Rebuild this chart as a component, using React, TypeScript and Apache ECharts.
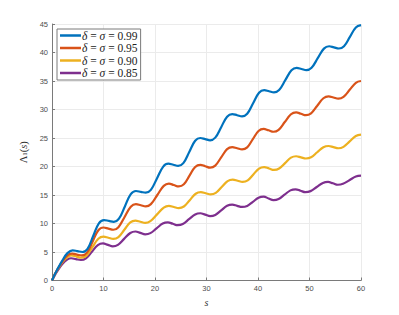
import React, { useEffect, useRef } from "react";
import * as echarts from "echarts";

const seriesNames = ["δ = σ = 0.99", "δ = σ = 0.95", "δ = σ = 0.90", "δ = σ = 0.85"];
const legendValues = ["0.99", "0.95", "0.90", "0.85"];
const colors = ["#0072BD", "#D95319", "#EDB120", "#7E2F8E"];
const xTicks = [0, 10, 20, 30, 40, 50, 60];
const yTicks = [0, 5, 10, 15, 20, 25, 30, 35, 40, 45];

const curve099: [number, number][] = [
  [0, 0], [0.5, 1.0], [1, 1.9], [2, 3.5], [3, 4.8], [4.0, 5.3], [4.95, 5.15], [5.9, 5.0],
  [6.9, 5.56], [8.0, 7.8], [9.1, 10.04], [10.1, 10.6], [11.05, 10.45], [12.0, 10.3],
  [13.0, 10.84], [14.15, 13.0], [15.3, 15.16], [16.3, 15.7], [17.25, 15.55], [18.2, 15.4],
  [19.2, 15.91], [20.4, 17.95], [21.6, 19.99], [22.6, 20.5], [23.55, 20.3], [24.5, 20.1],
  [25.5, 20.59], [26.65, 22.55], [27.8, 24.51], [28.8, 25.0], [29.75, 24.8], [30.7, 24.6],
  [31.7, 25.06], [32.85, 26.9], [34.0, 28.74], [35.0, 29.2], [35.95, 29.0], [36.9, 28.8],
  [37.9, 29.26], [39.05, 31.1], [40.2, 32.94], [41.2, 33.4], [42.15, 33.2], [43.1, 33.0],
  [44.1, 33.43], [45.3, 35.15], [46.5, 36.87], [47.5, 37.3], [48.45, 37.1], [49.4, 36.9],
  [50.4, 37.32], [51.6, 39.0], [52.8, 40.68], [53.8, 41.1], [54.75, 40.9], [55.7, 40.7],
  [56.7, 41.11], [57.85, 42.75], [59.0, 44.39], [60, 44.8],
];
const curve095: [number, number][] = [
  [0, 0], [0.5, 1.0], [1, 1.85], [2, 3.3], [3, 4.4], [3.9, 4.7], [4.85, 4.55], [5.8, 4.4],
  [6.8, 4.89], [7.9, 6.85], [9.0, 8.81], [10.0, 9.3], [10.95, 9.1], [11.9, 8.9],
  [12.9, 9.35], [14.1, 11.15], [15.3, 12.95], [16.3, 13.4], [17.25, 13.2], [18.2, 13.0],
  [19.2, 13.4], [20.45, 15.0], [21.7, 16.6], [22.7, 17.0], [23.65, 16.75], [24.6, 16.5],
  [25.6, 16.88], [26.7, 18.4], [27.8, 19.92], [28.8, 20.3], [29.75, 20.05], [30.7, 19.8],
  [31.7, 20.16], [32.85, 21.6], [34.0, 23.04], [35.0, 23.4], [35.95, 23.2], [36.9, 23.0],
  [37.9, 23.36], [39.0, 24.8], [40.1, 26.24], [41.1, 26.6], [42.05, 26.35], [43.0, 26.1],
  [44.0, 26.44], [45.2, 27.8], [46.4, 29.16], [47.4, 29.5], [48.35, 29.25], [49.3, 29.0],
  [50.3, 29.33], [51.5, 30.65], [52.7, 31.97], [53.7, 32.3], [54.65, 32.1], [55.6, 31.9],
  [56.6, 32.21], [57.8, 33.45], [59.0, 34.69], [60, 35.0],
];
const curve090: [number, number][] = [
  [0, 0], [0.5, 1.0], [1, 1.8], [2, 3.2], [3, 4.1], [3.8, 4.4], [4.75, 4.2], [5.7, 4.0],
  [6.7, 4.37], [7.85, 5.85], [9.0, 7.33], [10.0, 7.7], [10.95, 7.5], [11.9, 7.3],
  [12.9, 7.62], [14.05, 8.9], [15.2, 10.18], [16.2, 10.5], [17.15, 10.3], [18.1, 10.1],
  [19.1, 10.4], [20.4, 11.6], [21.7, 12.8], [22.7, 13.1], [23.65, 12.9], [24.6, 12.7],
  [25.6, 12.98], [26.75, 14.1], [27.9, 15.22], [28.9, 15.5], [29.85, 15.3], [30.8, 15.1],
  [31.8, 15.36], [32.95, 16.4], [34.1, 17.44], [35.1, 17.7], [36.05, 17.5], [37.0, 17.3],
  [38.0, 17.56], [39.1, 18.6], [40.2, 19.64], [41.2, 19.9], [42.15, 19.65], [43.1, 19.4],
  [44.1, 19.64], [45.25, 20.6], [46.4, 21.56], [47.4, 21.8], [48.35, 21.6], [49.3, 21.4],
  [50.3, 21.62], [51.5, 22.5], [52.7, 23.38], [53.7, 23.6], [54.65, 23.4], [55.6, 23.2],
  [56.6, 23.44], [57.8, 24.4], [59.0, 25.36], [60, 25.6],
];
const curve085: [number, number][] = [
  [0, 0], [0.5, 0.85], [1, 1.6], [2, 2.9], [3, 3.7], [3.7, 3.9], [4.65, 3.75], [5.6, 3.6],
  [6.6, 3.89], [7.75, 5.05], [8.9, 6.21], [9.9, 6.5], [10.85, 6.25], [11.8, 6.0],
  [12.8, 6.26], [14.0, 7.3], [15.2, 8.34], [16.2, 8.6], [17.15, 8.35], [18.1, 8.1],
  [19.1, 8.31], [20.3, 9.15], [21.5, 9.99], [22.5, 10.2], [23.45, 9.95], [24.4, 9.7],
  [25.4, 9.91], [26.6, 10.75], [27.8, 11.59], [28.8, 11.8], [29.75, 11.55], [30.7, 11.3],
  [31.7, 11.5], [32.85, 12.3], [34.0, 13.1], [35.0, 13.3], [35.95, 13.1], [36.9, 12.9],
  [37.9, 13.08], [39.0, 13.8], [40.1, 14.52], [41.1, 14.7], [42.05, 14.4], [43.0, 14.1],
  [44.0, 14.29], [45.15, 15.05], [46.3, 15.81], [47.3, 16.0], [48.25, 15.75], [49.2, 15.5],
  [50.2, 15.68], [51.4, 16.4], [52.6, 17.12], [53.6, 17.3], [54.55, 17.05], [55.5, 16.8],
  [56.5, 16.96], [57.75, 17.6], [59.0, 18.24], [60, 18.4],
];
const curves = [curve099, curve095, curve090, curve085];

const SERIF = "'Liberation Serif', 'DejaVu Serif', serif";
const SANS = "'Liberation Sans', Arial, sans-serif";

export default function App() {
  const ref = useRef<HTMLDivElement>(null);
  useEffect(() => {
    if (!ref.current) return;
    const chart = echarts.init(ref.current, undefined, { renderer: "svg" });
    const option: any = {
      animation: false,
      backgroundColor: "#ffffff",
      grid: { left: 52, right: 38, top: 24, bottom: 34.5, containLabel: false },
      xAxis: {
        type: "value",
        min: xTicks[0],
        max: xTicks[xTicks.length - 1],
        interval: 10,
        name: "s",
        nameLocation: "middle",
        nameGap: 12,
        nameTextStyle: { fontFamily: SERIF, fontStyle: "italic", fontSize: 10, color: "#333" },
        axisLine: { show: true, onZero: false, lineStyle: { color: "#7a7a7a", width: 1 } },
        axisTick: { show: true, inside: true, length: 3, lineStyle: { color: "#7a7a7a" } },
        axisLabel: { fontFamily: SANS, fontSize: 7.5, color: "#4d4d4d", margin: 4 },
        splitLine: { show: true, lineStyle: { color: "#ebebeb", width: 1 } },
      },
      yAxis: {
        type: "value",
        min: yTicks[0],
        max: yTicks[yTicks.length - 1],
        interval: 5,
        name: "{n|Λ}{sub|1}{n|(}{i|s}{n|)}",
        nameLocation: "middle",
        nameGap: 10,
        nameRotate: 90,
        nameTextStyle: {
          color: "#333",
          rich: {
            n: { fontFamily: SERIF, fontSize: 10.5, color: "#333" },
            i: { fontFamily: SERIF, fontSize: 10.5, fontStyle: "italic", color: "#333" },
            sub: { fontFamily: SERIF, fontSize: 7, color: "#333", padding: [4, 0, 0, 0] },
          },
        },
        axisLine: { show: true, onZero: false, lineStyle: { color: "#7a7a7a", width: 1 } },
        axisTick: { show: true, inside: true, length: 3, lineStyle: { color: "#7a7a7a" } },
        axisLabel: { fontFamily: SANS, fontSize: 7.5, color: "#4d4d4d", margin: 4 },
        splitLine: { show: true, lineStyle: { color: "#ebebeb", width: 1 } },
      },
      legend: {
        orient: "vertical",
        left: 57,
        top: 29,
        icon: "rect",
        itemWidth: 21,
        itemHeight: 2.5,
        itemGap: 0.5,
        padding: [0.5, 3, 1, 3],
        borderColor: "#7a7a7a",
        borderWidth: 1,
        backgroundColor: "#ffffff",
        data: seriesNames,
        formatter: (name: string) => {
          const idx = seriesNames.indexOf(name);
          return `{i|δ}{n| = }{i|σ}{n| = ${legendValues[idx]}}`;
        },
        textStyle: {
          padding: [0, 0, 0, -4],
          rich: {
            n: { fontFamily: SERIF, fontSize: 11.5, color: "#222", lineHeight: 12 },
            i: { fontFamily: SERIF, fontSize: 11.5, fontStyle: "italic", color: "#222", lineHeight: 12 },
          },
        },
      },
      series: curves.map((c, i) => ({
        name: seriesNames[i],
        type: "line",
        data: c,
        smooth: 0.4,
        showSymbol: false,
        symbol: "none",
        lineStyle: { color: colors[i], width: 2.2 },
        itemStyle: { color: colors[i] },
        z: 10 - i,
      })),
    };
    chart.setOption(option);
    return () => chart.dispose();
  }, []);
  return (
    <div
      ref={ref}
      style={{ position: "absolute", left: 0, top: 0, width: 399, height: 315 }}
    />
  );
}
